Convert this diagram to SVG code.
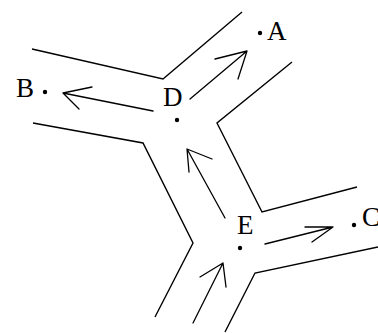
<svg xmlns="http://www.w3.org/2000/svg" width="378" height="333" viewBox="0 0 378 333">
<style>
.road{fill:none;stroke:#000;stroke-width:1.4;stroke-linejoin:miter}
.arr{fill:none;stroke:#000;stroke-width:1.3;stroke-linecap:round;stroke-linejoin:round}
.lbl{font-family:"Liberation Serif",serif;font-size:27px;fill:#000}
.dot{fill:#000}
</style>
<rect width="378" height="333" fill="#fff"/>
<g id="roads">
<polyline class="road" points="32,49 163,79 242,12"/>
<polyline class="road" points="33,123 143,143 193,243 155,317"/>
<polyline class="road" points="292,62 217,123 262,212 357,187"/>
<polyline class="road" points="378,247 255,273 225,332"/>
</g>
<g id="connectors">
<path class="arr" d="M153,111 L63,93 M92,87 L63,93 L79,109"/>
<path class="arr" d="M190,99 L247,51 M215,59 L247,51 L238,79"/>
<path class="arr" d="M225,218 L187,149 M212,159 L187,149 L189,172"/>
<path class="arr" d="M265,244 L333,227 M305,227 L333,227 L312,242"/>
<path class="arr" d="M193,323 L223,263 M200,277 L223,263 L226,287"/>
</g>
<g id="node-B"><text class="lbl" x="16" y="97">B</text><circle class="dot" cx="45" cy="92" r="2.2"/></g>
<g id="node-D"><text class="lbl" x="163" y="106">D</text><circle class="dot" cx="177" cy="120" r="2.2"/></g>
<g id="node-A"><text class="lbl" x="267" y="40">A</text><circle class="dot" cx="260" cy="33" r="2.2"/></g>
<g id="node-E"><text class="lbl" x="237" y="234">E</text><circle class="dot" cx="240" cy="248" r="2.2"/></g>
<g id="node-C"><text class="lbl" x="362" y="226">C</text><circle class="dot" cx="354" cy="225" r="2.2"/></g>
</svg>
